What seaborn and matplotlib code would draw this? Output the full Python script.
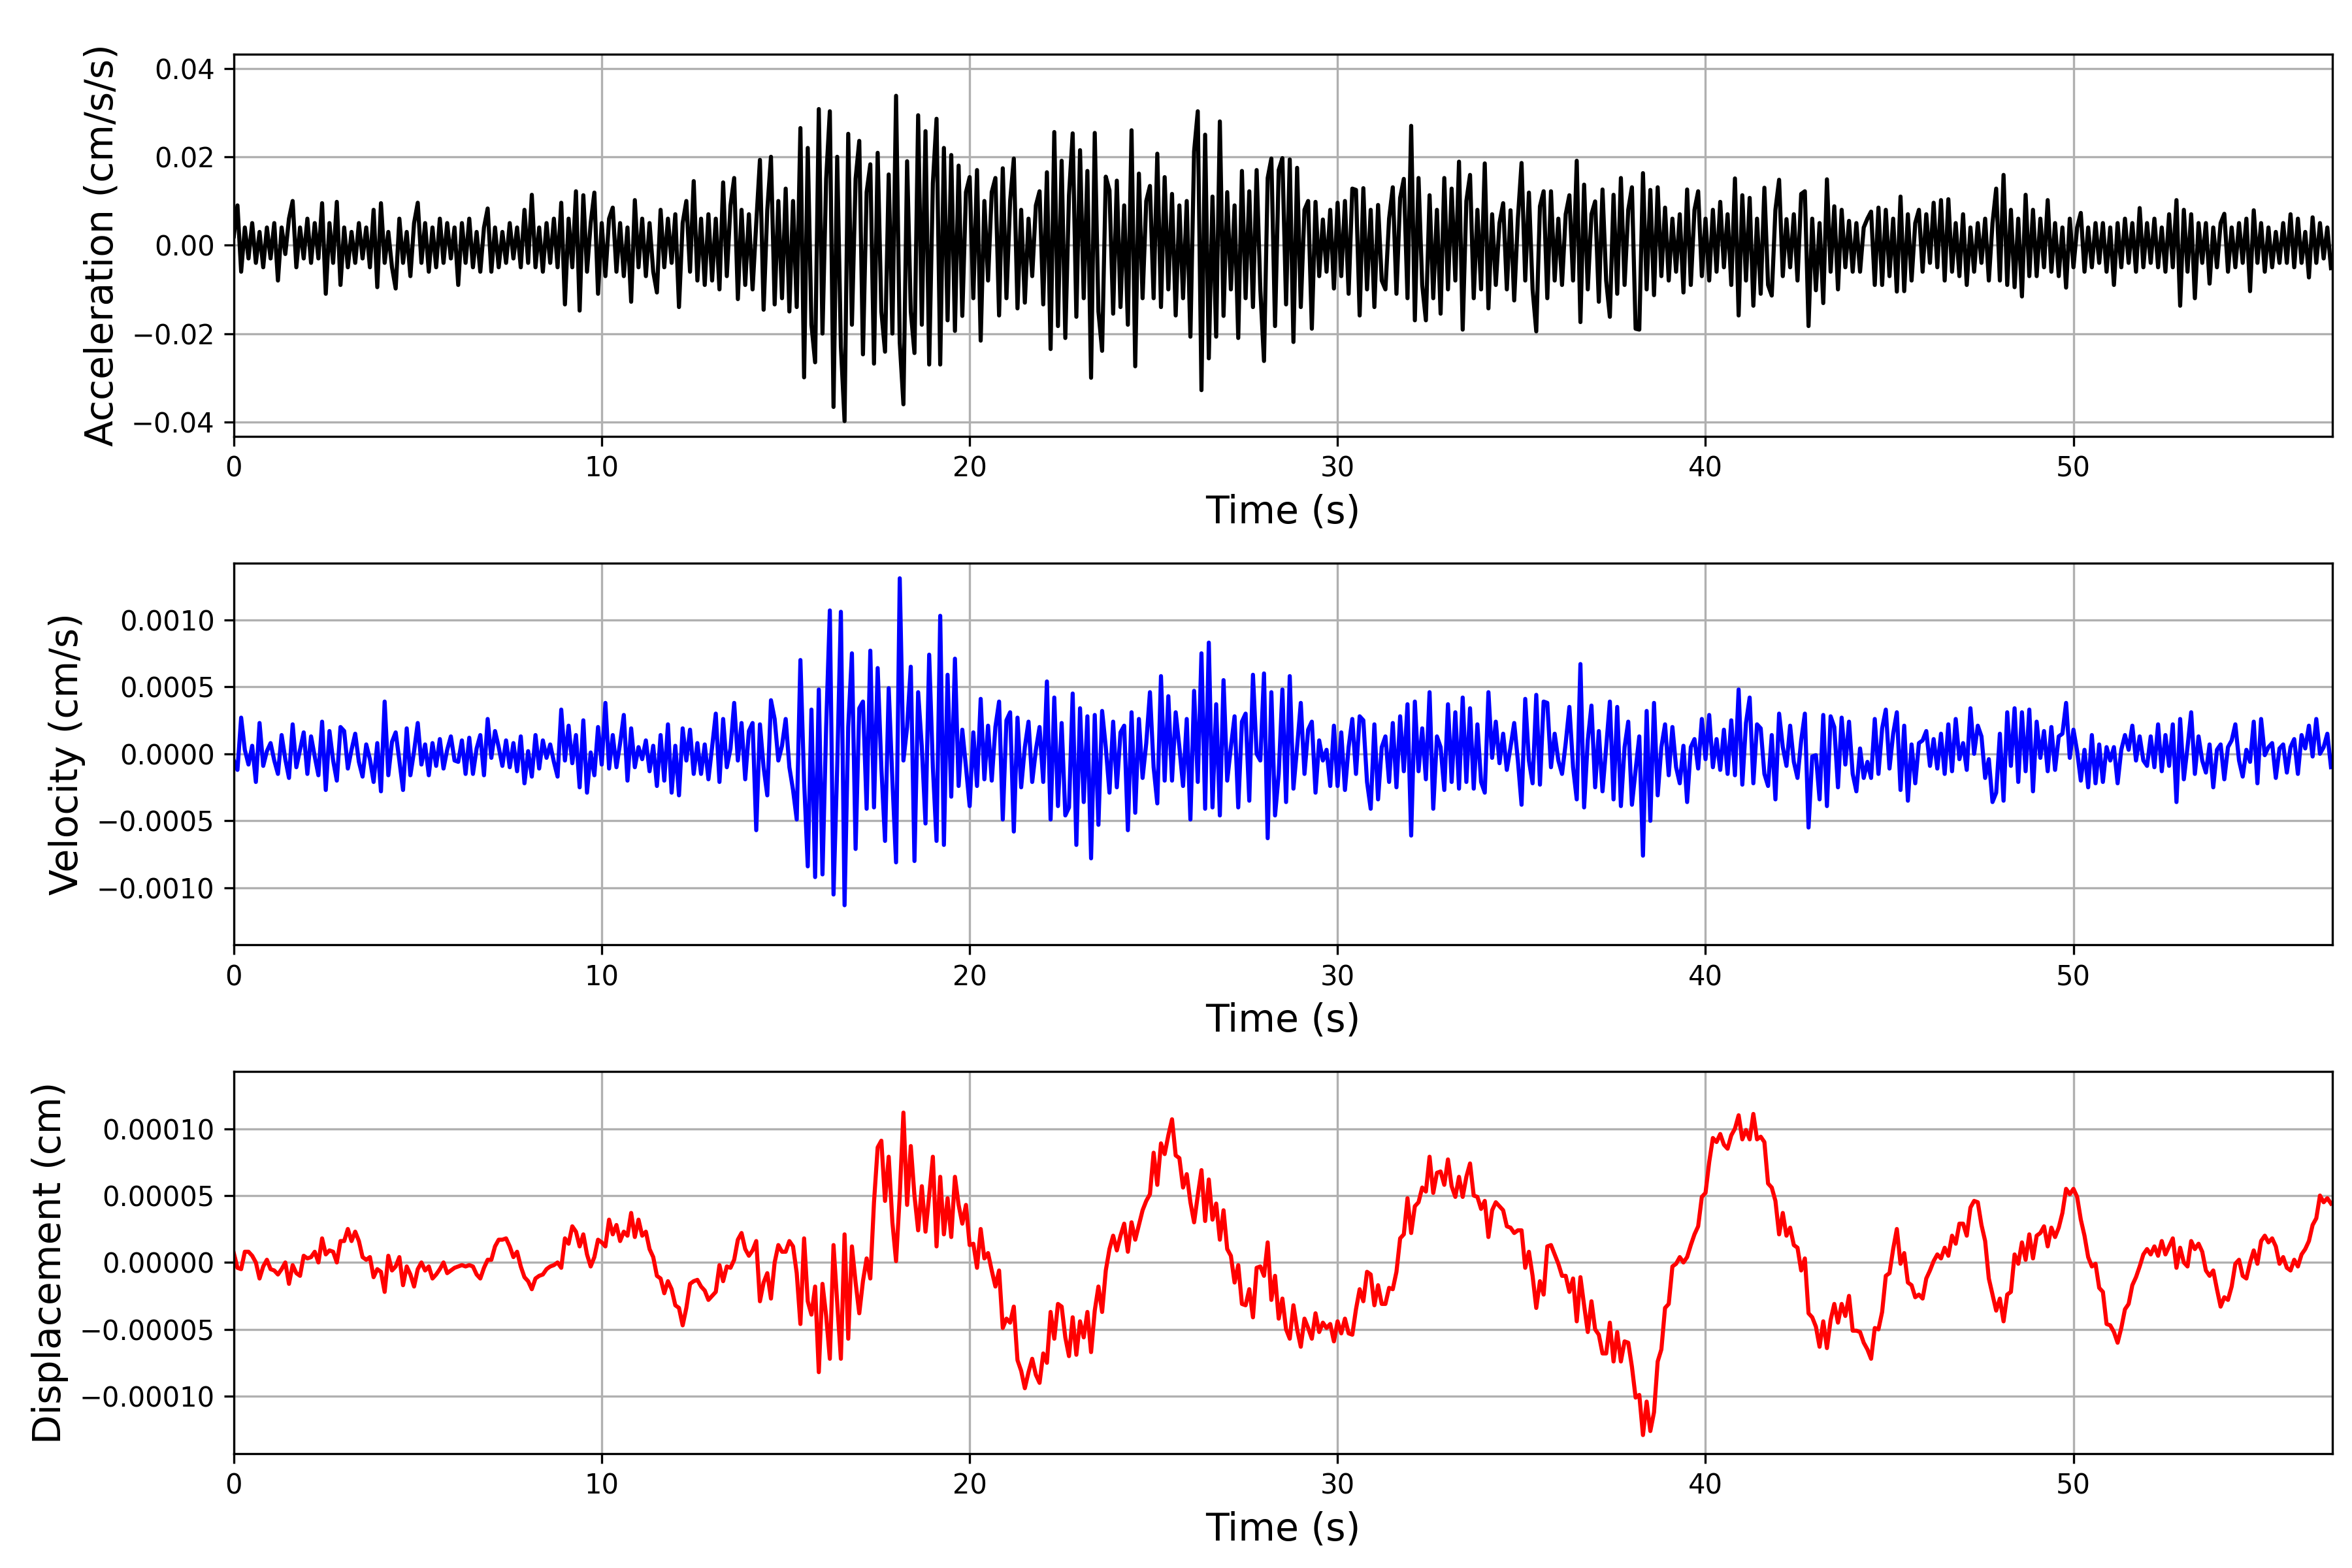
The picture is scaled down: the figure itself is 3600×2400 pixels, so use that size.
import numpy as np
import matplotlib
matplotlib.use('Agg')
import matplotlib.pyplot as plt
import seaborn as sns

# valores, muestreo cada 0.1 s
dt = 0.1

# aceleración en 1e-3 cm/s/s
accel_milli = [
    2, 9, -6, 4, -3, 5, -4, 3, -5, 4,
    -3, 5, -8, 4, -2, 6, 10, -5, 4, -3,
    6, -4, 5, -3, 9.5, -11, 5, -4, 9.8, -9,
    4, -5, 3, -4, 5, -3, 4, -5, 8, -9.5,
    9.5, -4, 3, -5, -9.8, 6, -4, 3, -7, 5,
    9.6, -4, 5, -6, 4, -5, 6, -4, 5, -3,
    4, -9, 5, -4, 6, -5, 3, -6, 4, 8.3,
    -6, 4, -5, 3, -4, 5, -3, 4, -5, 8,
    -4, 11.4, -5, 4, -6, 5, -4, 6, -5, 9.6,
    -13.4, 6, -5, 12.2, -14.8, 11.3, -6, 5, 11.9, -11,
    5, -7, 6, 8.5, -6, 5, -7, 4, -12.8, 10.2,
    -5, 6, -7, 5, -6, -10.7, 8, -5, 6, -4,
    7, -14, 5, 10, -6, 14.5, -8, 6, -9, 7,
    -8, 6, -10, 14.2, -7, 9, 15.2, -12.2, 8, -9,
    7, -10, 5, 19.3, -14.6, 8, 20, -13.4, 10, -12,
    12.8, -15, 10, -14, 26.5, -29.9, 22, -18, -26.5, 30.8,
    -20, 15, 30.3, -36.6, 20, -22.9, -39.8, 25.2, -18, 15,
    23.6, -24.7, 12, 18.3, -26.8, 20.9, -15, -24.1, 16, -20,
    33.8, -22, -36, 19, -15, -24.4, 29.4, -18, 25.8, -27,
    14, 28.6, -27, 22, -17, 20.4, -19.4, 18, -16, 12,
    15.4, -12, 17, -21.6, 10, -8, 12, 15.2, -15.9, 17.4,
    -12, 10, 19.6, -14.3, 8, -13, 6, -7, 9, 12.2,
    -13.4, 16.5, -23.5, 25.6, -18.3, 19.1, -21, 11.3, 25.3, -16.2,
    21.5, -12, 16.8, -30, 25.4, -15, -23.9, 15.5, 12.4, -15.5,
    14.6, -14, 9, -18, 26, -27.4, 16.2, -12, 10, 13.4,
    -12, 20.7, -14, 15.4, -10, 11.6, -15.9, 9, -12, 10,
    -20.7, 21.2, 30.3, -32.8, 25, -25.6, 11, -20.7, 28, -16,
    12, -10, 9, -21, 16.8, -12, 12.2, -14, 17, -10,
    -26.2, 15.2, 19.6, -18.3, 17, 19.7, -13.4, 19.4, -21.9, 17.5,
    -14, 8, 10, -18.9, 9.8, -7, 5.8, -6, 8, -9.8,
    9.6, -7, 10, -11, 12.8, 12.5, -15.9, 12.9, -10, 8,
    -14, 9.1, -8, -10, 6, 13.1, -11, 10.7, 15, -12,
    27, -17, 15.2, -9, -17, 11.3, -12, 8, -15.5, 15.2,
    -10, 12.8, -8, 18.9, -19.1, 10, 15.9, -12, 8, -10,
    18.5, -14.3, 7, -9, 5, 9.5, -10, 7.9, -12.5, 6,
    18.6, -8, 11.9, -10, -19.5, 8.8, 12.2, -12, 12.2, -8,
    6, -9, 7, 11.3, -8, 19.1, -17.4, 13.7, -10, 7,
    9.9, -12.8, 12.6, -8, -16.2, 11.4, -11, 15.2, -9, 8,
    13.1, -18.9, -19.1, 16.3, -10, 12.5, -11.3, 13.1, -7, 8.5,
    -8, 6, -6, 7, -10.7, 12.6, -9, 8, 12.2, -7,
    6, -8, 8, -6, 9.8, -5, 7, -9, 15.1, -15.9,
    11.3, -8, 10.7, -13.7, 6, -11, 13, -9, -11.4, 8,
    14.8, -7, 5.9, -5, 7, -8, 11.6, 12.2, -18.3, 6,
    -10.2, 5, -13.1, 14.9, -6, 8.8, -10, 8, -5, 5.5,
    -6, 5, -6, 4, 6, 7.6, -9, 8.5, -9, 8,
    -7, 6, -10.5, 11, -10.4, 7, -8, 5, 8, -6,
    7, -4, 9.6, -5, 10.2, -8, 10.4, -6, 5, -7,
    7, -9, 4, -6, 5, -4, 6, -8, 5, 12.8,
    -8, 15.9, -9, 8, -9.5, 6, -11.6, 11.4, -7, 8,
    -7, 6, -5, 10.2, -6, 5, -7, 4, -9.6, 6,
    -5, 4, 7.3, -6, 4, -5, 5, -4, 5, -6,
    4, -9, 5, -5, 6, -4, 5, -6, 8.4, -5,
    5, -4, 6, -5, 4, -6, 7, -5, 10.2, -13.7,
    8, -6, 7, -12, 5, -4, 5, -8.7, 4, -5,
    5, 7.1, -6, 4, -5, 5, -4, 6, -10.4, 7.9,
    -4, 5, -6, 4, -5, 3, -4, 5, -4, 7,
    -5, 6, -4, 3, -7.3, 6.3, -4, 5, -3, 4,
    -5.2,
]

# velocidad en 1e-4 cm/s
vel_e4 = [
    -0.5, -1.2, 2.7, 0.3, -0.8, 0.6, -2.1, 2.3, -0.9, 0.2,
    0.8, -0.5, -1.5, 1.4, -0.4, -1.8, 2.2, -1.0, 0.3, 1.6,
    -1.5, 1.3, -0.2, -1.6, 2.4, -2.7, 1.7, -0.5, -2.0, 2.0,
    1.7, -1.1, 0.3, 1.5, -0.6, -1.7, 0.7, -0.4, -2.1, 0.8,
    -2.8, 3.9, -1.6, 0.9, 1.6, -0.5, -2.7, 1.9, -1.6, 0.2,
    2.3, -0.8, 0.7, -1.6, 0.8, -0.9, 1.1, -1.1, 0.3, 1.3,
    -0.5, -0.6, 1.0, -1.5, 1.2, -1.5, 0.4, 1.4, -1.6, 2.6,
    -0.3, 1.7, 0.5, -0.9, 1.0, -1.0, 0.8, -1.3, 1.3, -2.2,
    0.2, -1.7, 1.4, -1.1, 1.0, -0.3, 0.7, -0.6, -1.7, 3.3,
    -0.5, 2.1, -0.7, 1.4, -2.5, 2.5, -2.9, 0.1, -1.6, 2.0,
    -0.8, 3.8, -1.1, 1.4, -1.0, 0.8, 2.9, -2.0, 1.9, -1.0,
    0.5, -0.4, 1.0, -1.3, 0.6, -2.4, 1.4, -2.0, 2.2, -2.9,
    0.6, -3.1, 1.9, -0.5, 1.8, -1.5, 0.8, -1.5, 0.7, -1.9,
    0.5, 3.0, -2.1, 2.6, -1.0, 0.4, 3.8, -0.5, 2.3, -1.9,
    1.7, 2.3, -5.7, 2.2, -1.0, -3.1, 4.0, 2.6, -0.5, 0.6,
    2.6, -1.0, -2.7, -4.9, 7.0, -2.0, -8.4, 3.3, -9.2, 4.8,
    -9.0, 2.0, 10.7, -10.5, -1.0, 10.6, -11.3, 2.0, 7.5, -7.1,
    3.4, 3.9, -4.1, 7.7, -4.0, 6.4, -1.0, -6.5, 4.9, -2.0,
    -8.1, 13.1, -0.5, 2.0, 6.5, -8.0, 4.6, 0.5, -5.2, 7.4,
    -1.0, -6.5, 10.3, -6.8, 5.9, -3.2, 7.1, -2.4, 1.8, -1.0,
    -3.9, 1.6, -2.4, 4.1, -1.9, 2.1, -2.0, 2.0, 3.9, -4.9,
    2.5, 3.1, -5.8, 2.7, -2.5, 0.5, 2.4, -2.1, 0.3, 2.0,
    -2.1, 5.4, -4.9, 4.2, -3.9, 2.3, -4.6, -4.0, 4.5, -6.8,
    3.4, -3.6, 2.8, -7.8, 2.9, -5.3, 3.2, 0.5, -2.9, 2.4,
    -2.5, 1.6, 2.1, -5.7, 3.1, -4.4, 2.6, -1.8, 0.8, 4.6,
    -1.0, -3.7, 5.8, -2.0, 4.3, -2.0, 3.1, 0.5, -2.4, 2.6,
    -4.9, 4.7, -2.1, 7.5, -4.1, 8.3, -4.0, 3.7, -4.6, 5.5,
    -2.0, 0.5, 2.8, -4.0, 2.4, 3.0, -3.5, 5.9, 0.0, -0.5,
    6.0, -6.3, 4.6, -4.6, -1.5, 4.8, -3.6, 5.8, -2.6, 0.5,
    3.8, -1.5, 1.8, 2.4, -2.9, 1.0, -0.5, 0.3, -2.4, 2.1,
    -2.4, 1.6, -2.7, 0.5, 2.6, -1.5, 2.8, 2.5, -2.1, -4.1,
    2.2, -3.4, 0.5, 1.3, -2.1, 2.3, -2.5, 2.8, -1.3, 3.7,
    -6.1, 3.9, -1.3, 1.9, -1.9, 4.6, -4.1, 1.3, 0.5, -2.7,
    3.7, -2.1, 3.1, -2.6, 4.2, -2.1, 3.4, -2.6, 2.2, -2.1,
    -2.9, 4.6, -0.3, 2.4, -0.7, 1.5, -1.2, 0.5, 2.3, -0.5,
    -3.8, 4.1, -0.5, -2.2, 4.4, -2.3, 3.9, 3.8, -1.0, 1.5,
    -0.5, -1.5, 0.8, 3.5, -1.0, -3.4, 6.7, -4.0, 1.0, 3.6,
    -2.5, 1.7, -2.8, 0.5, 3.9, -3.4, 3.5, -3.9, 0.5, 2.4,
    -3.8, -1.2, 1.3, -7.6, 3.2, -5.0, 3.8, -3.1, 0.5, 2.2,
    -1.6, 2.0, -1.0, -2.2, 0.6, -3.6, 0.5, 1.1, -1.1, 2.6,
    -0.4, 2.9, -1.0, 1.1, -1.2, 1.8, -1.5, 2.5, -1.6, 4.8,
    -2.3, 2.3, 4.2, -2.2, 2.2, 1.9, -1.5, -2.4, 1.4, -3.4,
    3.0, 0.5, -0.9, 2.1, -0.6, -1.8, 1.0, 3.0, -5.5, -0.2,
    -0.1, -3.4, 2.9, -3.9, 2.8, 2.0, -2.5, 2.7, -0.8, 2.4,
    -1.5, -2.8, 0.4, -1.8, -0.6, -1.8, 2.6, -1.5, 1.9, 3.3,
    -1.1, 1.5, 3.1, -2.7, 2.1, -3.5, 0.7, -2.2, 0.8, 1.0,
    1.7, -0.9, 1.1, -1.1, 1.5, -1.5, 2.2, -1.3, 2.6, -0.4,
    0.8, -1.2, 3.4, 0.0, 2.1, 1.3, -1.8, -0.4, -3.6, -2.9,
    1.5, -3.5, 3.1, -0.9, 3.4, -2.1, 3.1, -1.3, 3.3, -2.8,
    2.4, -0.3, 1.7, -1.3, 2.0, -1.2, 1.3, 1.5, 3.8, -0.3,
    1.8, 0.2, -2.0, 0.3, -2.5, 1.4, -2.2, 0.7, -2.1, 0.5,
    -0.5, 0.5, -2.2, 0.3, 1.4, 0.3, 2.1, -0.5, 1.3, -0.5,
    -0.9, 1.3, -1.0, 2.2, -1.3, 1.4, -0.9, 2.2, -3.6, 2.6,
    -1.9, 0.5, 3.1, -1.5, 1.3, -0.5, -1.4, 0.7, -2.5, 0.3,
    0.7, -1.9, 0.5, 1.0, 2.2, -0.5, -1.7, 0.3, -0.6, 2.4,
    -2.2, 2.6, -0.1, 0.5, 0.8, -1.8, 0.4, 0.7, -1.4, 0.5,
    1.1, -1.5, 1.4, 0.4, 2.1, -0.2, 2.6, 0.0, 0.5, 1.5,
    -1.0,
]

# desplazamiento en 1e-5 cm
disp_e5 = [
    0.7, -0.4, -0.5, 0.8, 0.8, 0.5, 0.0, -1.2, -0.3, 0.2,
    -0.5, -0.6, -0.9, -0.5, 0.0, -1.6, -0.2, -0.8, -1.0, 0.5,
    0.3, 0.4, 0.8, 0.0, 1.8, 0.6, 0.9, 0.8, 0.0, 1.6,
    1.6, 2.5, 1.6, 2.3, 1.6, 0.4, 0.2, 0.4, -1.1, -0.5,
    -0.7, -2.2, 0.5, -0.6, -0.3, 0.4, -1.7, -0.3, -0.9, -1.8,
    -0.5, 0.0, -0.6, -0.3, -1.2, -0.9, -0.5, 0.0, -0.8, -0.6,
    -0.4, -0.3, -0.2, -0.3, -0.2, -0.3, -0.9, -1.2, -0.4, 0.2,
    0.2, 1.2, 1.7, 1.7, 1.8, 1.2, 0.4, 0.8, -0.3, -1.1,
    -1.4, -2.0, -1.2, -1.0, -0.9, -0.5, -0.3, -0.2, 0.0, -0.4,
    1.8, 1.4, 2.7, 2.3, 1.2, 2.1, 0.6, -0.3, 0.4, 1.7,
    1.5, 1.2, 3.2, 2.1, 2.8, 1.6, 2.3, 2.0, 3.7, 1.9,
    3.2, 2.0, 2.3, 1.0, 0.4, -1.0, -1.2, -2.3, -1.4, -2.0,
    -3.2, -3.4, -4.7, -3.4, -1.6, -1.4, -1.3, -1.8, -2.1, -2.8,
    -2.5, -2.2, -0.2, -1.4, -0.3, -0.4, 0.2, 1.7, 2.2, 1.0,
    0.5, 0.9, 1.6, -2.9, -1.5, -0.8, -2.7, 0.0, 1.3, 0.8,
    0.8, 1.6, 1.2, -0.8, -4.6, 1.8, -2.9, -3.9, -1.8, -8.2,
    -1.6, -4.0, -7.2, 1.3, -3.0, -7.2, 2.1, -5.7, 1.2, -1.5,
    -3.8, -1.4, 0.3, -1.2, 4.5, 8.6, 9.1, 4.6, 7.9, 3.0,
    0.1, 5.0, 11.2, 4.3, 8.7, 5.0, 2.4, 5.7, 2.3, 5.0,
    7.9, 1.2, 6.4, 2.1, 4.8, 1.9, 6.4, 4.3, 2.9, 4.3,
    1.3, 1.4, -0.4, 2.5, 0.3, 0.7, -0.6, -1.8, -0.6, -4.9,
    -4.2, -4.5, -3.3, -7.3, -8.1, -9.4, -8.2, -7.2, -8.4, -9.0,
    -6.8, -7.5, -3.7, -5.7, -3.1, -3.3, -5.6, -7.0, -4.1, -6.9,
    -4.4, -5.6, -3.7, -6.7, -3.6, -1.8, -3.7, -0.6, 1.0, 2.0,
    0.9, 2.0, 2.9, 0.8, 3.0, 1.7, 2.8, 3.9, 4.6, 5.1,
    8.2, 5.8, 8.9, 8.1, 9.5, 10.7, 8.0, 7.8, 5.6, 6.6,
    4.5, 3.0, 5.0, 6.9, 3.1, 6.2, 3.2, 4.4, 1.7, 3.9,
    1.0, 0.5, -1.5, -0.2, -3.1, -3.2, -2.0, -4.1, -0.4, -0.3,
    -1.0, 1.5, -2.8, -1.0, -4.2, -2.7, -5.0, -5.7, -3.2, -5.0,
    -6.3, -4.2, -4.9, -5.7, -3.8, -5.2, -4.5, -4.9, -4.6, -5.9,
    -4.4, -5.3, -4.2, -5.3, -5.4, -3.5, -2.0, -2.9, -0.7, -0.9,
    -3.2, -1.7, -3.1, -3.1, -1.9, -2.0, -0.7, 1.8, 2.1, 4.8,
    2.2, 4.2, 4.5, 5.6, 5.3, 7.9, 5.2, 6.7, 6.8, 5.8,
    7.7, 5.7, 4.9, 6.4, 4.9, 6.4, 7.4, 5.0, 4.9, 4.0,
    4.6, 1.9, 3.9, 4.5, 4.2, 3.9, 2.7, 2.6, 2.2, 2.4,
    2.4, -0.4, 0.8, -1.0, -3.4, -1.4, -2.4, 1.2, 1.3, 0.6,
    -0.1, -1.0, -1.0, -2.2, -1.2, -4.4, -1.1, -3.2, -5.2, -2.9,
    -5.0, -5.4, -6.8, -6.8, -4.5, -7.4, -5.2, -7.4, -5.9, -6.0,
    -7.8, -10.1, -9.9, -12.9, -10.4, -12.6, -11.2, -7.4, -6.5, -3.4,
    -3.1, -0.3, -0.1, 0.4, 0.0, 0.4, 1.3, 2.1, 2.7, 4.9,
    5.2, 7.5, 9.3, 9.0, 9.6, 8.8, 8.5, 9.5, 10.0, 11.0,
    9.2, 9.9, 9.2, 11.1, 9.2, 9.4, 9.0, 5.9, 5.6, 4.6,
    2.1, 3.7, 2.0, 2.6, 1.3, 1.1, -0.6, 0.3, -3.8, -4.1,
    -4.8, -6.3, -4.4, -6.4, -4.3, -3.1, -4.5, -3.1, -4.0, -2.5,
    -5.1, -5.1, -5.2, -6.0, -6.5, -7.2, -4.9, -5.0, -3.7, -1.0,
    -0.8, 1.0, 2.5, -0.1, 0.7, -1.5, -1.7, -2.6, -2.4, -2.7,
    -1.2, -0.6, 0.1, 0.6, 0.3, 1.1, 0.5, 2.0, 1.4, 2.9,
    2.9, 2.0, 4.1, 4.6, 4.5, 2.8, 1.6, -1.2, -2.4, -3.6,
    -2.7, -4.4, -2.4, -2.2, 0.6, -0.1, 1.5, 0.2, 2.1, 0.3,
    2.0, 2.2, 2.7, 1.2, 2.6, 1.9, 2.6, 3.7, 5.5, 5.1,
    5.5, 4.9, 3.2, 2.0, 0.4, -0.3, -0.1, -1.9, -2.2, -4.6,
    -4.7, -5.2, -6.0, -4.9, -3.5, -3.1, -1.7, -1.1, -0.3, 0.6,
    1.0, 0.6, 1.2, 0.5, 1.6, 0.6, 1.2, 1.8, -0.4, 1.1,
    0.0, -0.3, 1.6, 1.0, 1.4, 0.8, -0.6, -1.0, -0.6, -2.0,
    -3.3, -2.6, -2.8, -1.8, -0.1, 0.2, -1.0, -1.2, 0.0, 0.9,
    -0.1, 1.6, 2.0, 1.5, 1.8, 1.2, -0.1, 0.4, -0.4, -0.6,
    0.2, -0.3, 0.6, 1.0, 1.6, 2.8, 3.3, 5.0, 4.5, 4.8,
    4.4,
]

accel = np.array(accel_milli) * 1e-3
vel = np.array(vel_e4) * 1e-4
disp = np.array(disp_e5) * 1e-5

series = [
    (accel, 'black', 'Acceleration (cm/s/s)', 0.0432),
    (vel, 'blue', 'Velocity (cm/s)', 0.001425),
    (disp, 'red', 'Displacement (cm)', 0.0001427),
]

fig, axs = plt.subplots(3, 1, figsize=(12, 8), dpi=300)

for ax, (y, color, label, lim) in zip(axs, series):
    t = np.arange(len(y)) * dt
    sns.lineplot(ax=ax, x=t, y=y, color=color, linewidth=1.5, estimator=None)
    ax.set_xlim(0, 57.04)
    ax.set_ylim(-lim, lim)
    ax.set_xlabel('Time (s)', fontsize=14)
    ax.set_ylabel(label, fontsize=14)
    ax.grid(True)

fig.subplots_adjust(left=0.0994, right=0.9917, top=0.9654, bottom=0.0731, hspace=0.332)
fig.savefig('out.png', dpi=300)
